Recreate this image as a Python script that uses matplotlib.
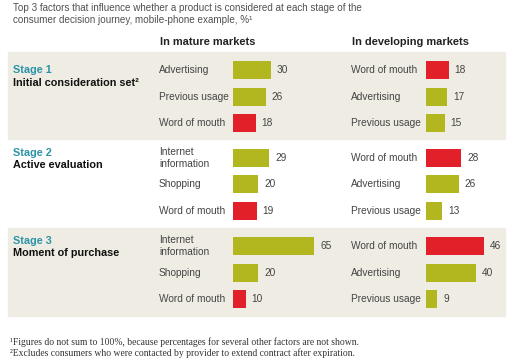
import matplotlib.pyplot as plt

# data
stages = ['Stage 1', 'Stage 2', 'Stage 3']
stage_names = ['Initial consideration set\u00b2', 'Active evaluation', 'Moment of purchase']

mature_labels = [['Advertising', 'Previous usage', 'Word of mouth'],
                 ['Internet\ninformation', 'Shopping', 'Word of mouth'],
                 ['Internet\ninformation', 'Shopping', 'Word of mouth']]
mature_values = [[30, 26, 18], [29, 20, 19], [65, 20, 10]]

developing_labels = [['Word of mouth', 'Advertising', 'Previous usage'],
                     ['Word of mouth', 'Advertising', 'Previous usage'],
                     ['Word of mouth', 'Advertising', 'Previous usage']]
developing_values = [[18, 17, 15], [28, 26, 13], [46, 40, 9]]

GREEN = '#b3b71f'
RED = '#e2202a'
BAND = '#efede3'
TEAL = '#2b93a9'
GREY = '#444444'

plt.rcParams['font.family'] = ['Liberation Sans', 'DejaVu Sans']

fig = plt.figure(figsize=(5.2, 3.6), dpi=100)
bg = fig.add_axes([0, 0, 1, 1])
bg.set_xlim(0, 520)
bg.set_ylim(360, 0)
bg.axis('off')

# title
bg.text(13, 8, 'Top 3 factors that influence whether a product is considered at each stage of the',
        fontsize=7.1, color='#505050', va='center')
bg.text(13, 20, 'consumer decision journey, mobile-phone example, %\u00b9',
        fontsize=7.1, color='#505050', va='center')

bg.text(160, 42, 'In mature markets', fontsize=7.9, fontweight='bold', color='#222222', va='center')
bg.text(352, 42, 'In developing markets', fontsize=7.9, fontweight='bold', color='#222222', va='center')

# stage bands
band_top = [52, 139, 228]
band_h = [87, 87, 88]
for i in [0, 2]:
    bg.add_patch(plt.Rectangle((8, band_top[i]), 497, band_h[i], color=BAND, zorder=0))

row_y = [[70, 97, 123], [158, 184, 211], [246, 273, 299]]
stage_y = [70, 153, 241]

for i in range(3):
    bg.text(13, stage_y[i], stages[i], fontsize=7.8, fontweight='bold', color=TEAL, va='center')
    bg.text(13, stage_y[i] + 12.5, stage_names[i], fontsize=7.8, fontweight='bold', color='#111111', va='center')
    for j in range(3):
        bg.text(159, row_y[i][j], mature_labels[i][j], fontsize=7.3, color=GREY, va='center',
                linespacing=1.25)
        bg.text(351, row_y[i][j], developing_labels[i][j], fontsize=7.3, color=GREY, va='center',
                linespacing=1.25)

# bar axes, 1.25 px per percentage point
scale = 1.25
ax_m = fig.add_axes([233 / 520, 0, 112 / 520, 1])
ax_d = fig.add_axes([426 / 520, 0, 80 / 520, 1])
for ax, px in [(ax_m, 112), (ax_d, 80)]:
    ax.set_xlim(0, px / scale)
    ax.set_ylim(360, 0)
    ax.axis('off')
    ax.patch.set_alpha(0)

for ax, labels, values in [(ax_m, mature_labels, mature_values), (ax_d, developing_labels, developing_values)]:
    for i in range(3):
        colors = [RED if l == 'Word of mouth' else GREEN for l in labels[i]]
        ax.barh(row_y[i], values[i], height=17.5, color=colors)
        for y, v in zip(row_y[i], values[i]):
            ax.text(v + 6 / scale, y, str(v), fontsize=7.3, color=GREY, va='center')

# footnotes
bg.text(10, 342, '\u00b9Figures do not sum to 100%, because percentages for several other factors are not shown.',
        fontsize=6.9, color='#333333', va='center', family=['Liberation Serif', 'DejaVu Serif'])
bg.text(10, 353, '\u00b2Excludes consumers who were contacted by provider to extend contract after expiration.',
        fontsize=6.9, color='#333333', va='center', family=['Liberation Serif', 'DejaVu Serif'])

fig.savefig('out.png', dpi=100)
